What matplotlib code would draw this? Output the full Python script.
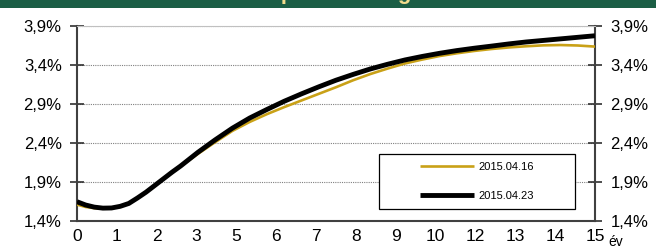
import matplotlib
matplotlib.use("Agg")
import matplotlib.pyplot as plt
from matplotlib.patches import Rectangle

plt.rcParams['font.family'] = ['Liberation Sans', 'DejaVu Sans']

title = "Zérókupon hozamgörbe"
maturity = [0, 0.25, 0.5, 0.75, 1, 1.25, 1.5, 1.75, 2, 2.25, 2.5, 2.75, 3, 3.5, 4, 4.5,
            5, 5.5, 6, 6.5, 7, 7.5, 8, 8.5, 9, 9.5, 10, 10.5, 11, 11.5, 12, 12.5,
            13, 13.5, 14, 14.5, 15]
curve_0416 = [1.61, 1.58, 1.565, 1.558, 1.562, 1.583, 1.62, 1.69, 1.765, 1.85, 1.935, 2.02,
              2.10, 2.26, 2.41, 2.555, 2.67, 2.77, 2.86, 2.945, 3.03, 3.115, 3.205, 3.285,
              3.355, 3.42, 3.47, 3.515, 3.55, 3.58, 3.605, 3.625, 3.64, 3.652, 3.656,
              3.65, 3.636]
curve_0423 = [1.647, 1.605, 1.578, 1.565, 1.567, 1.588, 1.625, 1.695, 1.77, 1.855, 1.94, 2.025,
              2.105, 2.28, 2.44, 2.59, 2.72, 2.83, 2.935, 3.03, 3.12, 3.205, 3.28, 3.35,
              3.41, 3.465, 3.51, 3.55, 3.585, 3.615, 3.642, 3.67, 3.695, 3.715, 3.735,
              3.755, 3.775]
series_labels = ["2015.04.16", "2015.04.23"]
x_tick_labels = ["0", "1", "2", "3", "5", "6", "7", "8", "9", "10", "12", "13", "14", "15"]
y_ticks = [1.4, 1.9, 2.4, 2.9, 3.4, 3.9]
y_tick_labels = ["1,4%", "1,9%", "2,4%", "2,9%", "3,4%", "3,9%"]
x_unit = "év"

W, H = 656, 247
fig = plt.figure(figsize=(W / 100, H / 100), dpi=100)
fig.patch.set_facecolor('white')

# title band (the title itself is mostly above the visible area)
band = Rectangle((0, 1 - 8 / H), 1, 8 / H, transform=fig.transFigure,
                 facecolor='#1b5e45', edgecolor='none', zorder=0)
fig.patches.append(band)
t = fig.text(333 / W, 1 + 0.5 / H, title, ha='center', va='baseline',
             fontsize=16, fontweight='bold', color='#f2dc8c')
t.set_clip_path(band)

ax = fig.add_axes([77 / W, 1 - 221 / H, (595 - 77) / W, (221 - 26) / H])
ax.plot(maturity, curve_0416, color='#c9a117', lw=1.9, label=series_labels[0],
        solid_capstyle='butt', solid_joinstyle='round', zorder=3)
ax.plot(maturity, curve_0423, color='black', lw=3.5, label=series_labels[1],
        solid_capstyle='butt', solid_joinstyle='round', zorder=4)

ax.set_xlim(0, 15)
ax.set_ylim(1.4, 3.9)
n = len(x_tick_labels)
ax.set_xticks([15 * i / (n - 1) for i in range(n)])
ax.set_xticklabels(x_tick_labels, fontsize=12.5)
ax.tick_params(axis='x', length=0, pad=6)
ax.set_yticks(y_ticks)
ax.set_yticklabels(y_tick_labels, fontsize=12)
ax.tick_params(axis='y', direction='inout', length=10, width=1.2, color='#303030',
               pad=6, left=True, right=True, labelleft=True, labelright=True)
ax.grid(axis='y', color='#808080', linestyle=(0, (1, 1)), linewidth=0.8)
ax.set_axisbelow(True)
for s in ['left', 'right', 'bottom']:
    ax.spines[s].set_color('#404040')
    ax.spines[s].set_linewidth(1.5)
ax.spines['top'].set_color('#c0c0c0')
ax.spines['top'].set_linewidth(0.8)

fig.text(608 / W, 1 - 235 / H, x_unit, ha='left', va='top', fontsize=10)

# legend box
lx0, lx1, ly0, ly1 = 379, 575, 154, 209
fig.patches.append(Rectangle((lx0 / W, 1 - ly1 / H), (lx1 - lx0) / W, (ly1 - ly0) / H,
                             transform=fig.transFigure, facecolor='white',
                             edgecolor='black', linewidth=0.9, zorder=5))
leg = fig.legend(loc='center', bbox_to_anchor=((lx0 + lx1) / 2 / W, 1 - (ly0 + ly1) / 2 / H),
                 frameon=False, fontsize=8, handlelength=4.8, handletextpad=0.4,
                 labelspacing=1.75)
leg.set_zorder(6)

fig.savefig('out.png', dpi=100)
